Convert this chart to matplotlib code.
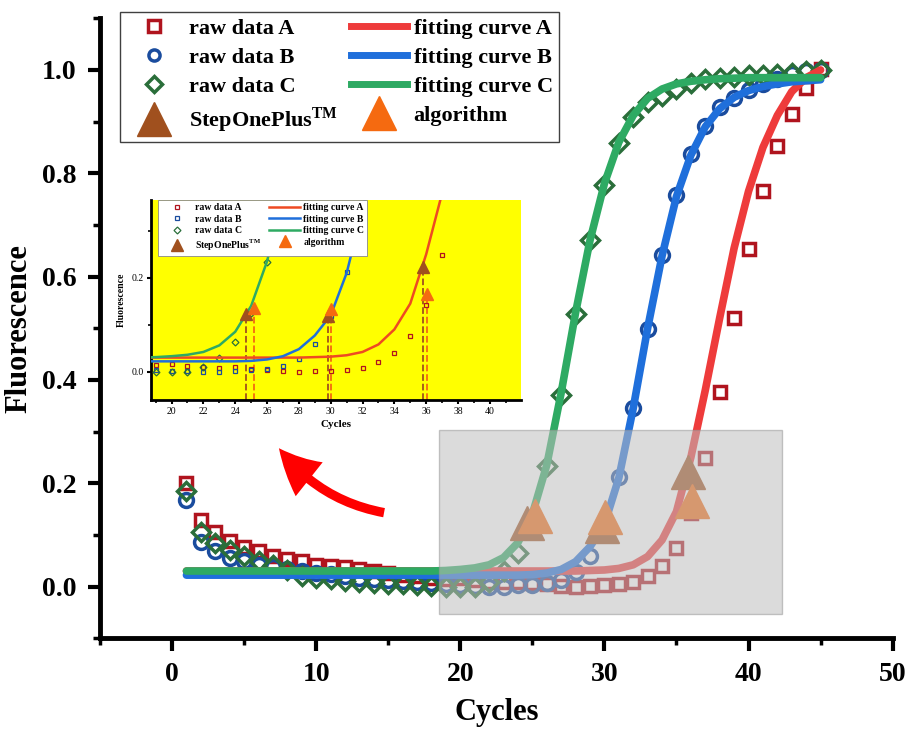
"""
qPCR amplification curves: raw data, fitted curves and Ct markers, with a zoomed inset.
"""
import matplotlib
matplotlib.use("Agg")
import matplotlib.pyplot as plt
from matplotlib.lines import Line2D
from matplotlib.patches import Rectangle, FancyArrowPatch
from matplotlib.ticker import MultipleLocator

# --------- DATA ---------
cycles = list(range(1, 46))

raw_a = [0.200, 0.128, 0.105, 0.089, 0.076, 0.068, 0.060, 0.053, 0.049, 0.041,
         0.039, 0.037, 0.033, 0.030, 0.026, 0.023, 0.020, 0.017, 0.015, 0.016,
         0.012, 0.009, 0.008, 0.009, 0.006, 0.004, 0.001, 0.000, 0.001, 0.002,
         0.004, 0.008, 0.020, 0.040, 0.075, 0.143, 0.248, 0.377, 0.519, 0.654,
         0.765, 0.852, 0.914, 0.965, 1.002]
raw_b = [0.167, 0.086, 0.068, 0.056, 0.049, 0.041, 0.037, 0.033, 0.030, 0.027,
         0.024, 0.020, 0.017, 0.014, 0.012, 0.010, 0.008, 0.006, 0.004, 0.002,
         0.001, 0.000, 0.000, 0.002, 0.003, 0.006, 0.012, 0.028, 0.060, 0.118,
         0.212, 0.346, 0.499, 0.642, 0.757, 0.837, 0.891, 0.928, 0.946, 0.961,
         0.973, 0.982, 0.992, 0.998, 1.000]
raw_c = [0.185, 0.105, 0.084, 0.070, 0.059, 0.049, 0.041, 0.031, 0.021, 0.017,
         0.014, 0.011, 0.009, 0.006, 0.004, 0.004, 0.002, 0.001, -0.001, -0.001,
         0.000, 0.009, 0.030, 0.064, 0.125, 0.233, 0.370, 0.527, 0.671, 0.778,
         0.858, 0.909, 0.938, 0.949, 0.963, 0.975, 0.982, 0.985, 0.987, 0.990,
         0.991, 0.993, 0.995, 0.997, 1.000]

fit_a = [0.030] * 28 + [0.031, 0.032, 0.035, 0.042, 0.058, 0.090, 0.145, 0.250,
                        0.380, 0.520, 0.655, 0.765, 0.850, 0.912, 0.958, 0.985, 1.000]
fit_b = [0.022] * 24 + [0.023, 0.026, 0.033, 0.048, 0.077, 0.120, 0.210, 0.345,
                        0.500, 0.640, 0.755, 0.835, 0.890, 0.925, 0.947, 0.960,
                        0.968, 0.973, 0.977, 0.979, 0.981]
fit_c = [0.030] * 18 + [0.031, 0.033, 0.036, 0.042, 0.056, 0.085, 0.140, 0.235,
                        0.375, 0.530, 0.670, 0.780, 0.860, 0.912, 0.945, 0.963,
                        0.973, 0.978, 0.981, 0.983, 0.984, 0.985, 0.985, 0.985,
                        0.985, 0.985, 0.985]

# Ct points (C, B, A)
stepone_x = [24.65, 29.85, 35.80]
stepone_y = [0.122, 0.118, 0.222]
algo_x = [25.15, 30.05, 36.05]
algo_y = [0.136, 0.134, 0.165]

# --------- STYLE ---------
C_RAW_A, C_RAW_B, C_RAW_C = "#B0141E", "#1A4C9E", "#2A6E3A"
C_FIT_A, C_FIT_B, C_FIT_C = "#EE3B3B", "#1F6FDB", "#2EAA63"
C_STEP, C_ALGO = "#A0501E", "#F56A10"

plt.rcParams["font.family"] = ["Liberation Serif", "DejaVu Serif"]
plt.rcParams["font.weight"] = "bold"
plt.rcParams["mathtext.fontset"] = "custom"
plt.rcParams["mathtext.rm"] = "Liberation Serif:bold"
plt.rcParams["mathtext.bf"] = "Liberation Serif:bold"

fig = plt.figure(figsize=(9.09, 7.31), dpi=100)
ax = fig.add_axes([0.110, 0.127, 0.872, 0.848])

# raw data
ax.plot(cycles, raw_a, ls="none", marker="s", ms=9, mfc="none", mec=C_RAW_A, mew=2.5, zorder=3)
ax.plot(cycles, raw_b, ls="none", marker="o", ms=10, mfc="none", mec=C_RAW_B, mew=2.5, zorder=3)
ax.plot(cycles, raw_c, ls="none", marker="D", ms=9, mfc="none", mec=C_RAW_C, mew=2.5, zorder=3)

# fitting curves
ax.plot(cycles, fit_a, color=C_FIT_A, lw=5.5, solid_capstyle="round", zorder=4)
ax.plot(cycles, fit_b, color=C_FIT_B, lw=5.5, solid_capstyle="round", zorder=4)
ax.plot(cycles, fit_c, color=C_FIT_C, lw=5.5, solid_capstyle="round", zorder=4)

# Ct markers
ax.plot(stepone_x, stepone_y, ls="none", marker="^", ms=24, color=C_STEP, zorder=5)
ax.plot(algo_x, algo_y, ls="none", marker="^", ms=24, color=C_ALGO, zorder=6)

# grey zoom region
ax.add_patch(Rectangle((18.5, -0.054), 23.85, 0.357, facecolor="#BEBEBE",
                       edgecolor="#999999", lw=1, alpha=0.55, zorder=7))

# arrow to inset
ax.add_patch(FancyArrowPatch((14.9, 0.142), (7.3, 0.272),
                             connectionstyle="arc3,rad=-0.2",
                             arrowstyle="simple,head_width=1.3,head_length=1.3,tail_width=0.28",
                             mutation_scale=24, color="#FF0000", lw=0, zorder=8))

ax.set_xlim(-5, 50)
ax.set_ylim(-0.1, 1.1)
ax.xaxis.set_major_locator(MultipleLocator(10))
ax.xaxis.set_minor_locator(MultipleLocator(5))
ax.yaxis.set_major_locator(MultipleLocator(0.2))
ax.yaxis.set_minor_locator(MultipleLocator(0.1))
ax.set_yticks([0.0, 0.2, 0.4, 0.6, 0.8, 1.0])
ax.set_yticklabels(["0.0", "0.2", "0.4", "0.6", "0.8", "1.0"])
for s in ["top", "right"]:
    ax.spines[s].set_visible(False)
for s in ["left", "bottom"]:
    ax.spines[s].set_linewidth(3.5)
ax.tick_params(which="major", direction="out", length=9, width=3, labelsize=20, pad=8)
ax.tick_params(which="minor", direction="out", length=5, width=2.5)
ax.set_xlabel("Cycles", fontsize=22, fontweight="bold", labelpad=8)
ax.set_ylabel("Fluorescence", fontsize=22, fontweight="bold", labelpad=6)

handles = [
    Line2D([], [], ls="none", marker="s", ms=8, mfc="none", mec=C_RAW_A, mew=2.5),
    Line2D([], [], ls="none", marker="o", ms=8, mfc="none", mec=C_RAW_B, mew=2.5),
    Line2D([], [], ls="none", marker="D", ms=8, mfc="none", mec=C_RAW_C, mew=2.5),
    Line2D([], [], ls="none", marker="^", ms=24, color=C_STEP),
    Line2D([], [], color=C_FIT_A, lw=5),
    Line2D([], [], color=C_FIT_B, lw=5),
    Line2D([], [], color=C_FIT_C, lw=5),
    Line2D([], [], ls="none", marker="^", ms=24, color=C_ALGO),
]
labels = ["raw data A", "raw data B", "raw data C", r"StepOnePlus$^{\mathrm{TM}}$",
          "fitting curve A", "fitting curve B", "fitting curve C", "algorithm"]
leg = ax.legend(handles, labels, ncol=2, loc="upper left",
                bbox_to_anchor=(120 / 909, 1 - 12 / 731), bbox_transform=fig.transFigure,
                borderaxespad=0, fancybox=False, framealpha=1, edgecolor="#404040",
                prop={"size": 16, "weight": "bold"}, handlelength=2.5,
                handletextpad=0.3, columnspacing=0.6, labelspacing=0.38,
                borderpad=0.3)
leg.get_frame().set_linewidth(1)
leg.set_zorder(10)

# --------- INSET ---------
ins = fig.add_axes([0.166, 0.453, 0.407, 0.273])
ins.set_facecolor("#FFFF00")
ins.plot(cycles, raw_a, ls="none", marker="s", ms=3, mfc="none", mec=C_RAW_A, mew=0.9, zorder=3)
ins.plot(cycles, raw_b, ls="none", marker="s", ms=3, mfc="none", mec=C_RAW_B, mew=0.9, zorder=3)
ins.plot(cycles, raw_c, ls="none", marker="D", ms=3.5, mfc="none", mec=C_RAW_C, mew=0.9, zorder=3)
ins.plot(cycles, fit_a, color="#EE4A22", lw=1.8, zorder=4)
ins.plot(cycles, fit_b, color=C_FIT_B, lw=1.8, zorder=4)
ins.plot(cycles, fit_c, color=C_FIT_C, lw=1.8, zorder=4)
ins.vlines(stepone_x, -0.06, stepone_y, colors=C_STEP, linestyles="dashed", lw=1.3, zorder=2)
ins.vlines(algo_x, -0.06, algo_y, colors=C_ALGO, linestyles="dashed", lw=1.3, zorder=2)
ins.plot(stepone_x, stepone_y, ls="none", marker="^", ms=8, color=C_STEP, zorder=5)
ins.plot(algo_x, algo_y, ls="none", marker="^", ms=8, color=C_ALGO, zorder=6)
ins.set_xlim(18.7, 41.95)
ins.set_ylim(-0.06, 0.365)
ins.xaxis.set_major_locator(MultipleLocator(2))
ins.xaxis.set_minor_locator(MultipleLocator(1))
ins.yaxis.set_major_locator(MultipleLocator(0.2))
ins.yaxis.set_minor_locator(MultipleLocator(0.1))
ins.set_yticks([0.0, 0.2])
ins.set_yticklabels(["0.0", "0.2"])
for s in ["top", "right"]:
    ins.spines[s].set_visible(False)
for s in ["left", "bottom"]:
    ins.spines[s].set_linewidth(2)
ins.tick_params(which="major", direction="out", length=3, width=1.5, labelsize=7, pad=2)
ins.tick_params(which="minor", direction="out", length=2, width=1.2)
for t in ins.get_xticklabels() + ins.get_yticklabels():
    t.set_fontweight("normal")
ins.set_xlabel("Cycles", fontsize=8, fontweight="bold", labelpad=3)
ins.set_ylabel("Fluorescence", fontsize=7, fontweight="bold", labelpad=4)

ins_handles = [
    Line2D([], [], ls="none", marker="s", ms=3, mfc="none", mec=C_RAW_A, mew=0.9),
    Line2D([], [], ls="none", marker="s", ms=3, mfc="none", mec=C_RAW_B, mew=0.9),
    Line2D([], [], ls="none", marker="D", ms=3.5, mfc="none", mec=C_RAW_C, mew=0.9),
    Line2D([], [], ls="none", marker="^", ms=8, color=C_STEP),
    Line2D([], [], color="#EE4A22", lw=1.8),
    Line2D([], [], color=C_FIT_B, lw=1.8),
    Line2D([], [], color=C_FIT_C, lw=1.8),
    Line2D([], [], ls="none", marker="^", ms=8, color=C_ALGO),
]
ileg = ins.legend(ins_handles, labels, ncol=2, loc="upper left", bbox_to_anchor=(0.02, 1.0),
                  borderaxespad=0, fancybox=False, framealpha=1, edgecolor="#888888",
                  prop={"size": 7, "weight": "bold"}, handlelength=3.2,
                  handletextpad=0.3, columnspacing=0.8, labelspacing=0.25, borderpad=0.3)
ileg.get_frame().set_linewidth(0.6)
ileg.set_zorder(10)

fig.savefig("out.png", dpi=100)
